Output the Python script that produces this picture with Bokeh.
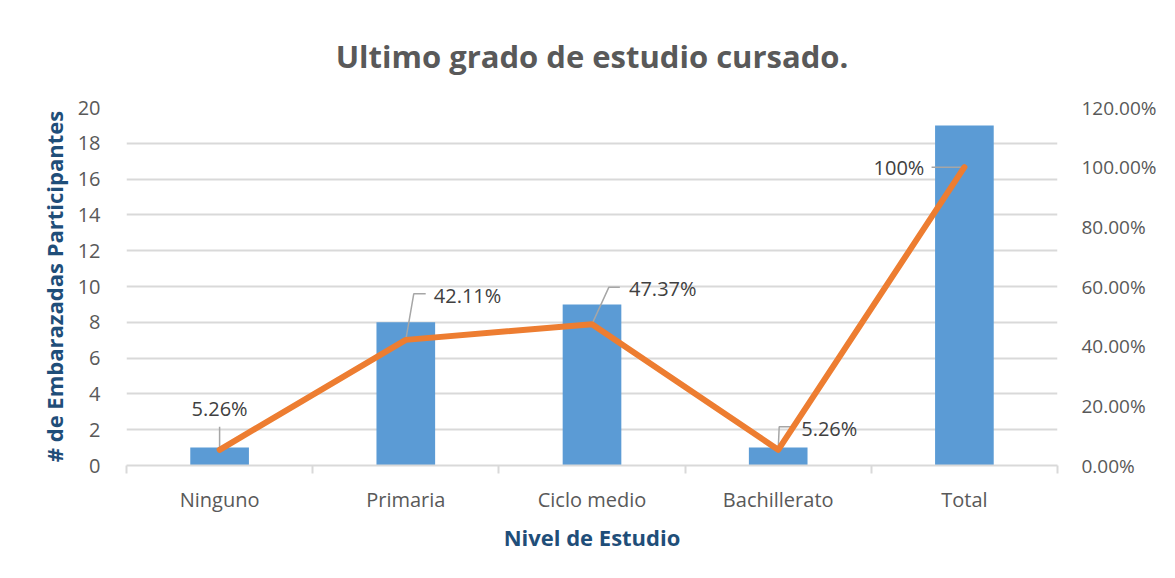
from bokeh.plotting import figure
from bokeh.models import (ColumnDataSource, Range1d, LinearAxis, FixedTicker,
                          NumeralTickFormatter, Title)
from bokeh.embed import file_html
from bokeh.resources import INLINE
from bokeh.core.properties import value

# ---- data ----
categories = ["Ninguno", "Primaria", "Ciclo medio", "Bachillerato", "Total"]
counts = [1, 8, 9, 1, 19]
percents = [0.0526, 0.4211, 0.4737, 0.0526, 1.0]
pct_labels = ["5.26%", "42.11%", "47.37%", "5.26%", "100%"]
left_ticks = list(range(0, 21, 2))
right_ticks = [0.0, 0.2, 0.4, 0.6, 0.8, 1.0, 1.2]

# ---- layout constants ----
W, H = 1159, 562
ML, MR, MT, MB = 126, 97, 107, 97
FRAME_W = W - ML - MR
FRAME_H = H - MT - MB
N = len(categories)
PX_X = FRAME_W / N          # px per category unit
PX_P = FRAME_H / 1.2        # px per percent unit (right range)

FONT = "Open Sans"
xs = [i + 0.5 for i in range(N)]

p = figure(width=W, height=H, x_range=Range1d(0, N), y_range=Range1d(0, 20),
           output_backend="svg", toolbar_location=None,
           min_border_left=ML, min_border_right=MR,
           min_border_top=MT, min_border_bottom=MB,
           background_fill_color="white", border_fill_color="white")
p.outline_line_color = None

p.title = Title(text="Ultimo grado de estudio cursado.", align="center",
                text_font=FONT, text_font_size="31px", text_font_style="bold",
                text_color="#595959", standoff=62)

p.extra_y_ranges = {"pct": Range1d(0, 1.2)}

# bars
src = ColumnDataSource(dict(x=xs, counts=counts, pct=percents, lab=pct_labels))
p.vbar(x="x", top="counts", width=0.315, bottom=0, source=src,
       fill_color="#5B9BD5", line_color=None)

# leader lines (screen-pixel offsets from each data point)
leader_px = [
    [(0, 0), (0, 23)],
    [(0, 0), (8, 46), (20, 46)],
    [(0, 0), (17, 37), (28, 37)],
    [(0, 0), (1, 23), (14, 23)],
    [(0, 0), (-33, 0)],
]
lx, ly = [], []
for xv, pv, segs in zip(xs, percents, leader_px):
    lx.append([xv + dx / PX_X for dx, dy in segs])
    ly.append([pv + dy / PX_P for dx, dy in segs])
p.multi_line(lx, ly, line_color="#A6A6A6", line_width=1.5, y_range_name="pct")

# line
p.line(x="x", y="pct", source=src, y_range_name="pct", line_color="#ED7D31",
       line_width=6, line_join="round", line_cap="round")

# data labels
lab_src = ColumnDataSource(dict(
    x=xs, y=percents, lab=pct_labels,
    xo=[0, 28, 37, 23, -40], yo=[-41, -44, -36, -21, 0],
    al=["center", "left", "left", "left", "right"]))
p.text(x="x", y="y", text="lab", source=lab_src, y_range_name="pct",
       x_offset="xo", y_offset="yo", text_align="al", text_baseline="middle",
       text_font=value(FONT), text_font_size="20px", text_color="#404040")

# x axis
xa = p.xaxis[0]
xa.ticker = FixedTicker(ticks=xs, minor_ticks=list(range(N + 1)))
xa.major_label_overrides = {xv: c for xv, c in zip(xs, categories)}
xa.major_tick_line_color = None
xa.minor_tick_line_color = "#D9D9D9"
xa.minor_tick_line_width = 2
xa.minor_tick_out = 8
xa.minor_tick_in = 0
xa.axis_line_color = "#D9D9D9"
xa.axis_line_width = 2
xa.major_label_text_font = FONT
xa.major_label_text_font_size = "20px"
xa.major_label_text_color = "#595959"
xa.major_label_standoff = 12
xa.axis_label = "Nivel de Estudio"
xa.axis_label_text_font = FONT
xa.axis_label_text_font_size = "22px"
xa.axis_label_text_font_style = "bold"
xa.axis_label_text_color = "#1F4E79"
xa.axis_label_standoff = 6

# left axis
ya = p.yaxis[0]
ya.ticker = FixedTicker(ticks=left_ticks)
ya.axis_line_color = None
ya.major_tick_line_color = None
ya.minor_tick_line_color = None
ya.major_label_text_font = FONT
ya.major_label_text_font_size = "20px"
ya.major_label_text_color = "#595959"
ya.major_label_standoff = 20
ya.axis_label = "# de Embarazadas Participantes"
ya.axis_label_text_font = FONT
ya.axis_label_text_font_size = "22px"
ya.axis_label_text_font_style = "bold"
ya.axis_label_text_color = "#1F4E79"
ya.axis_label_standoff = 6

# right axis
ra = LinearAxis(y_range_name="pct", ticker=FixedTicker(ticks=right_ticks),
                formatter=NumeralTickFormatter(format="0.00%"))
ra.axis_line_color = None
ra.major_tick_line_color = None
ra.minor_tick_line_color = None
ra.major_label_text_font = FONT
ra.major_label_text_font_size = "19px"
ra.major_label_text_color = "#595959"
ra.major_label_standoff = 18
p.add_layout(ra, "right")

# grid
p.xgrid.grid_line_color = None
p.ygrid.ticker = FixedTicker(ticks=left_ticks)
p.ygrid.grid_line_color = "#D9D9D9"
p.ygrid.grid_line_width = 2

open("out.html", "w").write(file_html(p, INLINE))
